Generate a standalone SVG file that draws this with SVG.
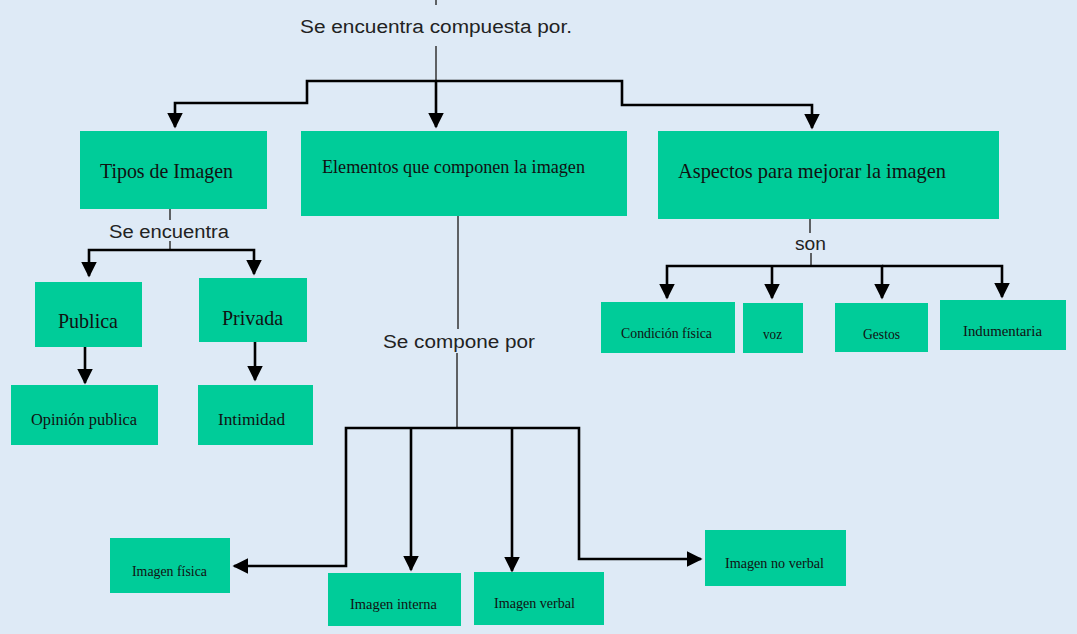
<svg xmlns="http://www.w3.org/2000/svg" width="1077" height="634" viewBox="0 0 1077 634">
<style>
.bg{fill:#DEEAF6}
.box{fill:#00CC99}
.t{font-family:"Liberation Serif","DejaVu Serif",serif;fill:#111}
.lbl{font-family:"Liberation Sans","DejaVu Sans",sans-serif;font-size:18px;fill:#222}
.c{fill:none;stroke:#000;stroke-width:2.6}
.thin{fill:none;stroke:#333;stroke-width:1.5}
</style>
<defs>
<marker id="ah" viewBox="0 0 10 10" refX="9" refY="5" markerWidth="6" markerHeight="6" orient="auto" markerUnits="strokeWidth">
<path d="M0,0 L10,5 L0,10 z" fill="#000"/>
</marker>
</defs>
<rect class="bg" x="0" y="0" width="1077" height="634"/>

<g id="connectors">
<line class="thin" x1="436" y1="0" x2="436" y2="5"/>
<text class="lbl" x="300" y="33" textLength="272" lengthAdjust="spacingAndGlyphs">Se encuentra compuesta por.</text>
<line class="thin" x1="436" y1="46" x2="436" y2="81"/>
<path class="c" d="M436,81 H307 V103 H175 V127" marker-end="url(#ah)"/>
<path class="c" d="M436,81 V127" marker-end="url(#ah)"/>
<path class="c" d="M436,81 H622 V105 H812 V128" marker-end="url(#ah)"/>

<line class="thin" x1="170" y1="209" x2="170" y2="220"/>
<text class="lbl" x="109" y="238" textLength="120" lengthAdjust="spacingAndGlyphs">Se encuentra</text>
<line class="thin" x1="170" y1="241" x2="170" y2="250"/>
<path class="c" d="M170,250 H89 V276" marker-end="url(#ah)"/>
<path class="c" d="M170,250 H254 V274" marker-end="url(#ah)"/>
<path class="c" d="M85,347 V383" marker-end="url(#ah)"/>
<path class="c" d="M255,342 V380" marker-end="url(#ah)"/>

<line class="thin" x1="458" y1="216" x2="458" y2="329"/>
<text class="lbl" x="383" y="348" textLength="152" lengthAdjust="spacingAndGlyphs">Se compone por</text>
<line class="thin" x1="457" y1="353" x2="457" y2="428"/>
<path class="c" d="M457,428 H346 V566 H234" marker-end="url(#ah)"/>
<path class="c" d="M411,428 V570" marker-end="url(#ah)"/>
<path class="c" d="M457,428 H579 V559 H701" marker-end="url(#ah)"/>
<path class="c" d="M512,428 V571" marker-end="url(#ah)"/>

<line class="thin" x1="810" y1="217" x2="810" y2="233"/>
<text class="lbl" x="795" y="250" textLength="31" lengthAdjust="spacingAndGlyphs">son</text>
<line class="thin" x1="811" y1="253" x2="811" y2="266"/>
<path class="c" d="M811,266 H667 V298" marker-end="url(#ah)"/>
<path class="c" d="M772,266 V298" marker-end="url(#ah)"/>
<path class="c" d="M811,266 H882 V298" marker-end="url(#ah)"/>
<path class="c" d="M882,266 H1002 V297" marker-end="url(#ah)"/>
</g>

<g id="tipos"><rect class="box" x="80" y="131" width="187" height="78"/><text class="t" x="100" y="178" font-size="21" textLength="133" lengthAdjust="spacingAndGlyphs">Tipos de Imagen</text></g>
<g id="elementos"><rect class="box" x="301" y="131" width="326" height="85"/><text class="t" x="322" y="173" font-size="19" textLength="263" lengthAdjust="spacingAndGlyphs">Elementos que componen la imagen</text></g>
<g id="aspectos"><rect class="box" x="658" y="131" width="341" height="88"/><text class="t" x="678" y="178" font-size="21" textLength="268" lengthAdjust="spacingAndGlyphs">Aspectos para mejorar la imagen</text></g>

<g id="publica"><rect class="box" x="35" y="282" width="107" height="65"/><text class="t" x="58" y="328" font-size="21" textLength="60" lengthAdjust="spacingAndGlyphs">Publica</text></g>
<g id="privada"><rect class="box" x="199" y="278" width="108" height="64"/><text class="t" x="222" y="325" font-size="21" textLength="61" lengthAdjust="spacingAndGlyphs">Privada</text></g>
<g id="opinion"><rect class="box" x="11" y="385" width="147" height="60"/><text class="t" x="31" y="425" font-size="16" textLength="106" lengthAdjust="spacingAndGlyphs">Opinión publica</text></g>
<g id="intimidad"><rect class="box" x="198" y="385" width="115" height="60"/><text class="t" x="218" y="425" font-size="16" textLength="67" lengthAdjust="spacingAndGlyphs">Intimidad</text></g>

<g id="condicion"><rect class="box" x="601" y="302" width="134" height="51"/><text class="t" x="621" y="338" font-size="14" textLength="91" lengthAdjust="spacingAndGlyphs">Condición física</text></g>
<g id="voz"><rect class="box" x="743" y="303" width="60" height="50"/><text class="t" x="763" y="339" font-size="14" textLength="19" lengthAdjust="spacingAndGlyphs">voz</text></g>
<g id="gestos"><rect class="box" x="835" y="303" width="93" height="49"/><text class="t" x="863" y="339" font-size="14" textLength="37" lengthAdjust="spacingAndGlyphs">Gestos</text></g>
<g id="indumentaria"><rect class="box" x="940" y="300" width="126" height="50"/><text class="t" x="963" y="336" font-size="14" textLength="79" lengthAdjust="spacingAndGlyphs">Indumentaria</text></g>

<g id="fisica"><rect class="box" x="110" y="538" width="120" height="55"/><text class="t" x="132" y="576" font-size="14" textLength="75" lengthAdjust="spacingAndGlyphs">Imagen física</text></g>
<g id="interna"><rect class="box" x="328" y="573" width="133" height="53"/><text class="t" x="350" y="609" font-size="14" textLength="87" lengthAdjust="spacingAndGlyphs">Imagen interna</text></g>
<g id="verbal"><rect class="box" x="474" y="572" width="130" height="53"/><text class="t" x="494" y="608" font-size="14" textLength="81" lengthAdjust="spacingAndGlyphs">Imagen verbal</text></g>
<g id="noverbal"><rect class="box" x="705" y="530" width="141" height="56"/><text class="t" x="725" y="568" font-size="14" textLength="99" lengthAdjust="spacingAndGlyphs">Imagen no verbal</text></g>
</svg>
